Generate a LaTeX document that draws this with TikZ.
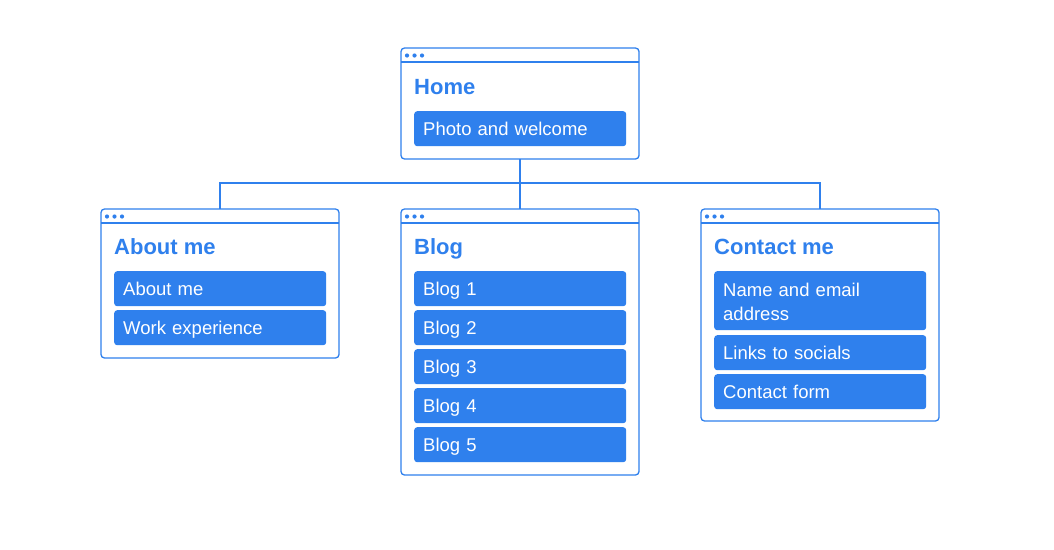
\documentclass[tikz,border=0pt]{standalone}
\usepackage{fontspec}
\setmainfont{Liberation Sans}
\definecolor{sblue}{HTML}{2F80ED}
\tikzset{
  win/.style={draw=sblue, line width=1.3pt, rounded corners=3.5pt, fill=white, inner sep=0pt, outer sep=0pt, anchor=north west, minimum width=238pt},
  bar/.style={draw=sblue, line width=1.3pt},
  dot/.style={fill=sblue, draw=none},
  wtitle/.style={anchor=base west, inner sep=0pt, text=sblue, font=\fontsize{22}{26}\selectfont\bfseries},
  item/.style={fill=sblue, rounded corners=3pt, anchor=north west, text=white, minimum width=212pt, minimum height=35pt, text width=194pt, inner xsep=9pt, inner ysep=0pt, align=left, text height=18pt, text depth=4pt, font=\fontsize{18.5}{24}\selectfont},
  conn/.style={draw=sblue, line width=1.2pt}
}
\newcommand{\winbar}[1]{%
  \draw[bar] ([yshift=-14pt]#1.north west) -- ([yshift=-14pt]#1.north east);
  \fill[dot] ([xshift=6pt,yshift=-7.5pt]#1.north west) circle (2.1pt);
  \fill[dot] ([xshift=13.5pt,yshift=-7.5pt]#1.north west) circle (2.1pt);
  \fill[dot] ([xshift=21pt,yshift=-7.5pt]#1.north west) circle (2.1pt);
}
\begin{document}
\begin{tikzpicture}[x=1pt,y=-1pt]
\useasboundingbox[fill=white] (0,0) rectangle (1054,549);
% windows
\node[win, minimum height=111pt] (home) at (401,48) {};
\node[win, minimum height=149pt] (about) at (101,209) {};
\node[win, minimum height=266pt] (blog) at (401,209) {};
\node[win, minimum height=212pt] (contact) at (701,209) {};
\winbar{home}
\winbar{about}
\winbar{blog}
\winbar{contact}
% connectors
\coordinate (hub) at (520,183);
\draw[conn] (home.south) -- (hub);
\draw[conn] (hub) -| (about.north);
\draw[conn] (hub) -- (blog.north);
\draw[conn] (hub) -| (contact.north);
% titles
\node[wtitle] (thome) at (414,94) {Home};
\node[wtitle] (tabout) at (114,254) {About me};
\node[wtitle] (tblog) at (414,254) {Blog};
\node[wtitle] (tcontact) at (714,254) {Contact me};
% items
\node[item] (h1) at (414,111) {Photo and welcome};
\node[item] (a1) at (114,271) {About me};
\node[item] (a2) at (114,310) {Work experience};
\node[item] (b1) at (414,271) {Blog 1};
\node[item] (b2) at (414,310) {Blog 2};
\node[item] (b3) at (414,349) {Blog 3};
\node[item] (b4) at (414,388) {Blog 4};
\node[item] (b5) at (414,427) {Blog 5};
\node[item, minimum height=59pt, text depth=27pt] (c1) at (714,271) {Name and email\\address};
\node[item] (c2) at (714,335) {Links to socials};
\node[item] (c3) at (714,374) {Contact form};
\end{tikzpicture}
\end{document}
